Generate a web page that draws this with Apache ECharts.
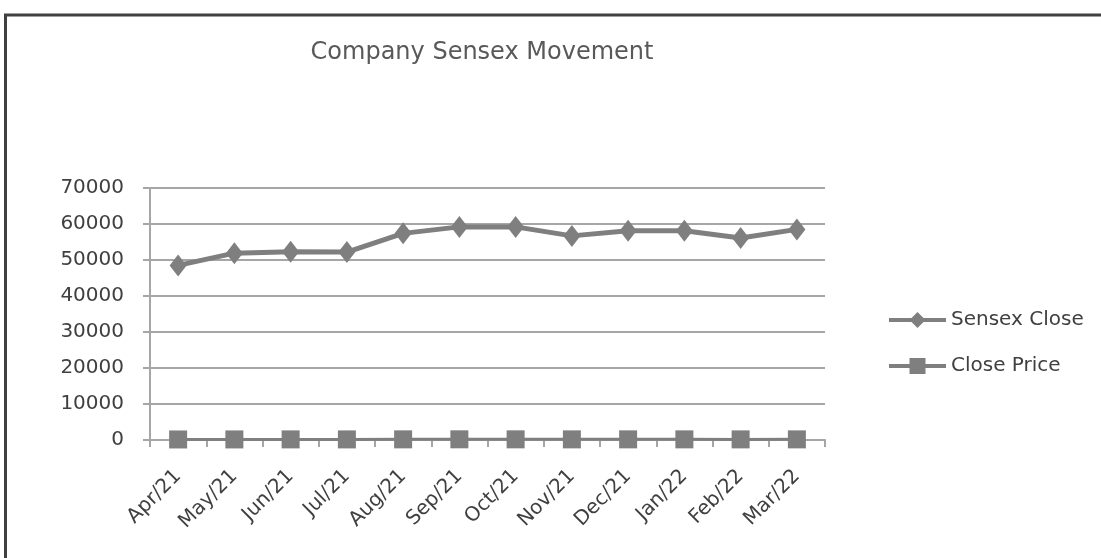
<!DOCTYPE html>
<html>
<head>
<meta charset="utf-8">
<script src="https://cdn.jsdelivr.net/npm/echarts@6/dist/echarts.min.js"></script>
<style>
html,body{margin:0;padding:0;background:#fff;}
#chart{width:1101px;height:558px;}
</style>
</head>
<body>
<div id="chart"></div>
<script>
const categories = ['Apr/21','May/21','Jun/21','Jul/21','Aug/21','Sep/21','Oct/21','Nov/21','Dec/21','Jan/22','Feb/22','Mar/22'];
const sensexClose = [48500, 51900, 52300, 52200, 57400, 59200, 59200, 56700, 58100, 58100, 56100, 58500];
const closePrice = [150, 160, 170, 165, 180, 190, 185, 175, 180, 178, 170, 175];
const yTicks = [0, 10000, 20000, 30000, 40000, 50000, 60000, 70000];

const chart = echarts.init(document.getElementById('chart'), null, {renderer:'canvas'});
const gray = '#7f7f7f';
const font = 'DejaVu Sans';
chart.setOption({
  animation:false,
  backgroundColor:'#ffffff',
  title:{
    text:'Company Sensex Movement',
    left:477, top:36, textAlign:'center',
    textStyle:{fontFamily:font, fontSize:24, fontWeight:'normal', color:'#595959'}
  },
  legend:{
    orient:'vertical',
    left:882, top:305,
    itemWidth:57, itemHeight:20, itemGap:26,
    lineStyle:{width:4},
    textStyle:{fontFamily:font, fontSize:20, color:'#404040'},
    data:['Sensex Close','Close Price']
  },
  grid:{left:150, right:276, top:188, bottom:118, containLabel:false},
  xAxis:{
    type:'category',
    data:categories,
    boundaryGap:true,
    axisLine:{show:true, lineStyle:{color:'#a6a6a6', width:2}},
    axisTick:{show:true, length:7, alignWithLabel:false, lineStyle:{color:'#a6a6a6', width:2}},
    axisLabel:{rotate:45, margin:33, fontFamily:font, fontSize:20, color:'#404040'}
  },
  yAxis:{
    type:'value',
    min:yTicks[0], max:yTicks[yTicks.length-1], interval:10000,
    axisLine:{show:true, lineStyle:{color:'#a6a6a6', width:2}},
    axisTick:{show:true, length:7, lineStyle:{color:'#a6a6a6', width:2}},
    splitLine:{show:true, lineStyle:{color:'#a6a6a6', width:2}},
    axisLabel:{margin:26, fontFamily:font, fontSize:20, color:'#404040', formatter:function(v){return String(v);}}
  },
  series:[
    {
      name:'Sensex Close', type:'line', data:sensexClose,
      symbol:'diamond', symbolSize:[17,22],
      lineStyle:{color:gray, width:5},
      itemStyle:{color:gray},
      z:3
    },
    {
      name:'Close Price', type:'line', data:closePrice,
      symbol:'rect', symbolSize:18,
      lineStyle:{color:gray, width:3},
      itemStyle:{color:gray},
      z:3
    }
  ],
  graphic:[{
    type:'rect', z:100, silent:true,
    shape:{x:5.5, y:15, width:1200, height:700},
    style:{fill:'none', stroke:'#404040', lineWidth:3}
  }]
});
</script>
</body>
</html>
